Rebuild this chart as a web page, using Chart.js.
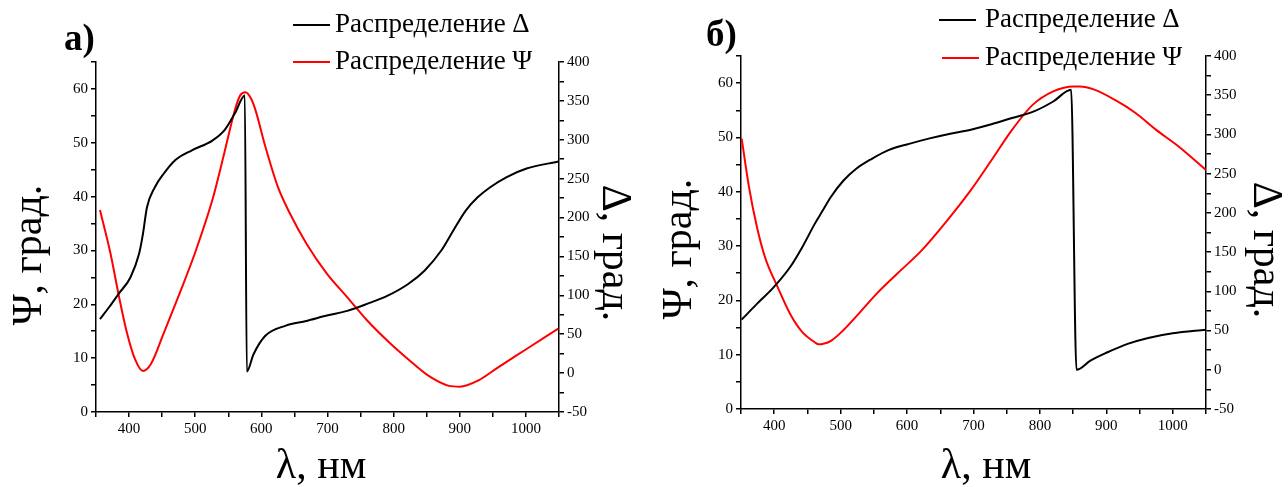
<!DOCTYPE html>
<html><head><meta charset="utf-8">
<script src="https://cdn.jsdelivr.net/npm/chart.js@4/dist/chart.umd.min.js"></script>
<style>
html,body{margin:0;padding:0;background:#fff;}
#wrap{position:relative;width:1288px;height:487px;overflow:hidden;}
canvas{position:absolute;top:0;}
#ca{left:0;} #cb{left:640px;}
</style></head><body>
<div id="wrap">
<canvas id="ca" width="640" height="487"></canvas>
<canvas id="cb" width="648" height="487"></canvas>
</div>
<script>
// ---- Panel а) ----
const deltaA_x = [356, 370, 384, 402, 415, 421, 427, 439, 452, 470, 495, 526, 544, 560, 575, 578, 588, 606, 637, 668, 699, 730, 760, 791, 822, 847, 872, 890, 909, 927, 946, 971, 1001, 1049];
const deltaA_y = [69.5, 85, 101.7, 123, 153, 179, 213, 239, 256, 274, 286.5, 299, 312, 334, 357, 2, 24, 48, 61, 67, 74, 80, 89, 99.6, 114.6, 132, 157.6, 183, 209, 226, 239, 252, 263, 272];
const psiA_x = [356, 372, 384, 396, 409, 421, 433, 452, 476, 501, 526, 544, 560, 568, 576, 584, 591, 606, 625, 643, 668, 699, 730, 760, 791, 822, 853, 884, 900, 927, 958, 1001, 1049];
const psiA_y = [37.5, 29.4, 21.9, 15.1, 9.8, 7.6, 8.9, 14.5, 21.9, 30.0, 39.4, 48.1, 56.1, 58.8, 59.4, 58.3, 56.1, 49.3, 41.8, 36.9, 31.3, 25.7, 21.3, 17.0, 13.2, 9.8, 6.7, 4.85, 4.7, 5.8, 8.3, 11.7, 15.5];
// ---- Panel б) ----
const deltaB_x = [351, 374, 399, 424, 442, 461, 473, 485, 504, 523, 547, 572, 603, 634, 665, 696, 727, 758, 790, 820, 847, 855, 876, 901, 932, 963, 1000, 1050];
const deltaB_y = [64, 84, 105, 131, 156, 186, 203, 220, 241, 256, 269, 280, 288, 295, 301, 306, 313, 321, 329, 342, 357, 0, 11.7, 22, 33, 40.6, 46.5, 51];
const psiB_x = [351, 362, 374, 386, 405, 424, 442, 461, 467, 474, 486, 504, 529, 554, 585, 622, 659, 696, 727, 758, 789, 820, 851, 860, 882, 913, 944, 975, 1006, 1050];
const psiB_y = [49.8, 40.9, 33.5, 28.0, 22.5, 17.5, 14.2, 12.3, 11.9, 12.0, 12.6, 14.5, 17.8, 21.2, 24.9, 29.2, 34.5, 40.3, 45.8, 51.4, 56.0, 58.5, 59.4, 59.4, 58.8, 56.9, 54.5, 51.4, 48.6, 44.0];

const seriesLabels = ['Распределение Δ', 'Распределение Ψ'];
const panelLabels = ['а)', 'б)'];
const xTitle = 'λ, нм';
const yLeftTitle = 'Ψ, град.';
const yRightTitle = 'Δ, град.';

const FONT = '"Liberation Serif", "Times New Roman", serif';
const pts = (xs, ys) => xs.map((x, i) => ({x, y: ys[i]}));

function txt(ctx, s, x, y, rot, font) {
  ctx.save();
  ctx.translate(x, y);
  ctx.rotate(rot);
  ctx.font = font;
  ctx.textAlign = 'center';
  ctx.textBaseline = 'middle';
  ctx.fillStyle = '#000';
  ctx.fillText(s, 0, 0);
  ctx.restore();
}

const overlay = {
  id: 'overlay',
  afterDraw(chart, args, o) {
    const ctx = chart.ctx;
    ctx.save();
    ctx.font = o.size + 'px ' + FONT;
    ctx.textBaseline = 'middle';
    ctx.textAlign = 'left';
    chart.data.datasets.forEach((ds, i) => {
      const y = o.rows[i];
      ctx.strokeStyle = ds.borderColor; ctx.lineWidth = 2;
      ctx.beginPath(); ctx.moveTo(o.lx[i][0], y); ctx.lineTo(o.lx[i][1], y); ctx.stroke();
      ctx.fillStyle = '#000';
      ctx.fillText(ds.label, o.tx[i], y);
    });
    ctx.font = 'bold ' + o.panelSize + 'px ' + FONT;
    ctx.textBaseline = 'alphabetic';
    ctx.fillText(o.panel, o.px, o.py);
    ctx.restore();
    const t = o.titles;
    txt(ctx, xTitle, t.x[0], t.x[1], 0, t.xs + 'px ' + FONT);
    txt(ctx, yLeftTitle, t.l[0], t.l[1], -Math.PI / 2, t.ys + 'px ' + FONT);
    txt(ctx, yRightTitle, t.r[0], t.r[1], Math.PI / 2, t.ys + 'px ' + FONT);
  }
};

function makeChart(id, dx, dy, px, py, box, ov) {
  const tickFont = {family: FONT, size: 15};
  new Chart(document.getElementById(id), {
    type: 'line',
    data: {datasets: [
      {label: seriesLabels[0], data: pts(dx, dy), yAxisID: 'y1', borderColor: '#000', borderWidth: 2, pointRadius: 0, cubicInterpolationMode: 'monotone'},
      {label: seriesLabels[1], data: pts(px, py), yAxisID: 'y', borderColor: '#ff0000', borderWidth: 2, pointRadius: 0, cubicInterpolationMode: 'monotone'}
    ]},
    options: {
      responsive: false, animation: false, devicePixelRatio: 1,
      layout: {padding: {top: box.top, left: 0, right: 0, bottom: 0}},
      plugins: {legend: {display: false}, tooltip: {enabled: false}, overlay: ov},
      scales: {
        x: {type: 'linear', min: 350, max: 1050,
          afterFit: s => { s.height = box.bottom; },
          ticks: {stepSize: 50, font: tickFont, color: '#000', padding: 3, maxRotation: 0, autoSkip: false,
            callback: v => (v % 100 === 0 ? String(v) : '')},
          grid: {drawOnChartArea: false, tickLength: 5, color: '#000', lineWidth: 1.5},
          border: {color: '#000', width: 1.5}
        },
        y: {position: 'left', min: 0, max: 65,
          afterFit: s => { s.width = box.left; },
          ticks: {stepSize: 5, font: tickFont, color: '#000', padding: 3, autoSkip: false,
            callback: v => (v % 10 === 0 ? String(v) : '')},
          grid: {drawOnChartArea: false, tickLength: 5, color: '#000', lineWidth: 1.5},
          border: {color: '#000', width: 1.5}
        },
        y1: {position: 'right', min: -50, max: 400,
          afterFit: s => { s.width = box.right; },
          ticks: {stepSize: 25, font: tickFont, color: '#000', padding: 3, autoSkip: false,
            callback: v => (v % 50 === 0 ? String(v) : '')},
          grid: {drawOnChartArea: false, tickLength: 5, color: '#000', lineWidth: 1.5},
          border: {color: '#000', width: 1.5}
        }
      }
    },
    plugins: [overlay]
  });
}

makeChart('ca', deltaA_x, deltaA_y, psiA_x, psiA_y,
  {top: 62, left: 96, right: 81, bottom: 75},
  {size: 27, rows: [25, 62], lx: [[293, 330], [293, 330]], tx: [335, 335], panel: panelLabels[0], panelSize: 37, px: 64, py: 50,
   titles: {xs: 42, ys: 42, x: [321, 467], l: [30, 255], r: [614, 253]}});
makeChart('cb', deltaB_x, deltaB_y, psiB_x, psiB_y,
  {top: 56, left: 101, right: 82, bottom: 78},
  {size: 27, rows: [20, 58], lx: [[299, 336], [302, 339]], tx: [345, 345], panel: panelLabels[1], panelSize: 37, px: 66, py: 46,
   titles: {xs: 42, ys: 42, x: [346, 467], l: [40, 249], r: [625, 250]}});
</script>
</body></html>
